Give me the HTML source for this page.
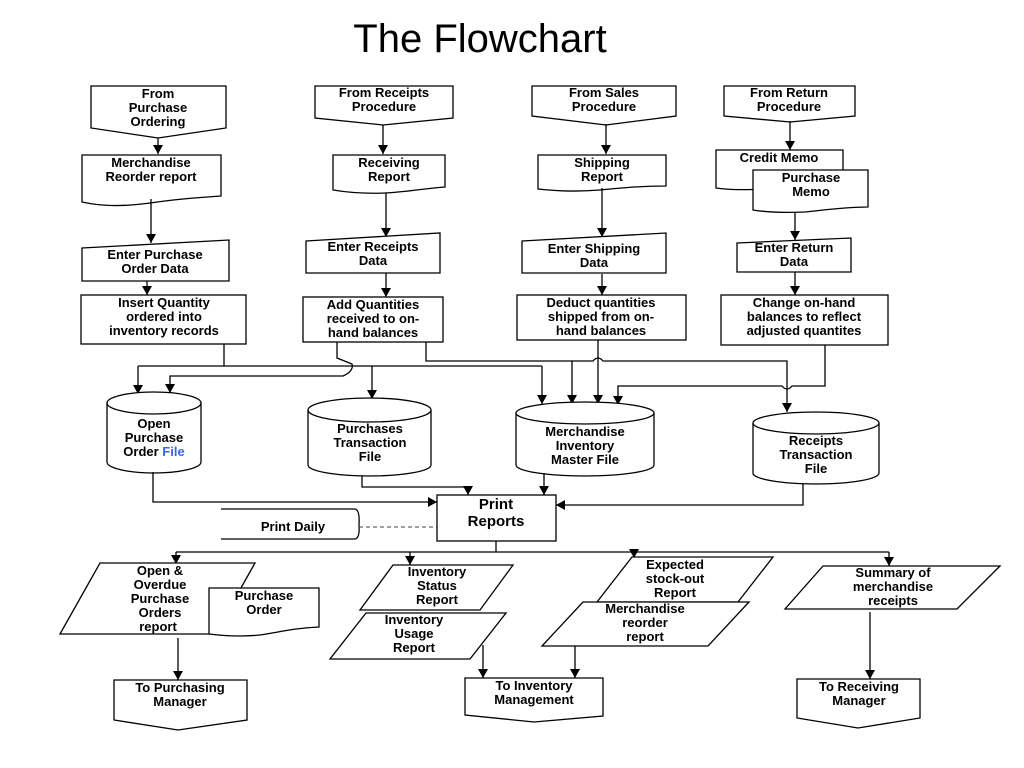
<!DOCTYPE html>
<html><head><meta charset="utf-8"><style>
html,body{margin:0;padding:0;background:#fff;}
svg{display:block;}
text{font-family:"Liberation Sans",Arial,sans-serif;font-weight:bold;font-size:13px;text-anchor:middle;fill:#000;}
.s{fill:#fff;stroke:#000;stroke-width:1.3;}
.l{fill:none;stroke:#000;stroke-width:1.3;}
</style></head><body>
<svg width="1024" height="768" viewBox="0 0 1024 768" xmlns="http://www.w3.org/2000/svg">
<defs><marker id="a" markerWidth="12" markerHeight="12" refX="9" refY="5" orient="auto" markerUnits="userSpaceOnUse"><path d="M0,0 L9,5 L0,10 Z" fill="#000"/></marker></defs>

<text x="480" y="52" style="font-weight:normal;font-size:40px">The Flowchart</text>

<!-- Column 1 -->
<path class="s" d="M91,86 H226 V128 L158,138 L91,128 Z"/>
<text x="158" y="98">From</text><text x="158" y="112">Purchase</text><text x="158" y="126">Ordering</text>
<line class="l" x1="158" y1="138" x2="158" y2="154" marker-end="url(#a)"/>
<path class="s" d="M82,155 H221 V196 C190,198 170,200 150,203 C120,207 100,206 82,202 Z"/>
<text x="151" y="167">Merchandise</text><text x="151" y="181">Reorder report</text>
<line class="l" x1="151" y1="199" x2="151" y2="243" marker-end="url(#a)"/>
<path class="s" d="M82,248 L229,240 V281 H82 Z"/>
<text x="155" y="259">Enter Purchase</text><text x="155" y="273">Order Data</text>
<line class="l" x1="147" y1="281" x2="147" y2="295" marker-end="url(#a)"/>
<rect class="s" x="81" y="295" width="165" height="49"/>
<text x="164" y="307">Insert Quantity</text><text x="164" y="321">ordered into</text><text x="164" y="335">inventory records</text>

<!-- Column 2 -->
<path class="s" d="M315,86 H453 V118 L383,125 L315,118 Z"/>
<text x="384" y="97">From Receipts</text><text x="384" y="111">Procedure</text>
<line class="l" x1="383" y1="125" x2="383" y2="154" marker-end="url(#a)"/>
<path class="s" d="M333,155 H445 V187 C420,189 405,192 385,193 C360,194 345,192 333,190 Z"/>
<text x="389" y="167">Receiving</text><text x="389" y="181">Report</text>
<line class="l" x1="386" y1="193" x2="386" y2="237" marker-end="url(#a)"/>
<path class="s" d="M306,241 L440,233 V273 H306 Z"/>
<text x="373" y="251">Enter Receipts</text><text x="373" y="265">Data</text>
<line class="l" x1="386" y1="273" x2="386" y2="297" marker-end="url(#a)"/>
<rect class="s" x="303" y="297" width="140" height="45"/>
<text x="373" y="309">Add Quantities</text><text x="373" y="323">received to on-</text><text x="373" y="337">hand balances</text>

<!-- Column 3 -->
<path class="s" d="M532,86 H676 V116 L606,125 L532,116 Z"/>
<text x="604" y="97">From Sales</text><text x="604" y="111">Procedure</text>
<line class="l" x1="606" y1="124" x2="606" y2="154" marker-end="url(#a)"/>
<path class="s" d="M538,155 H666 V186 C640,186 620,188 600,190 C575,192 555,191 538,189 Z"/>
<text x="602" y="167">Shipping</text><text x="602" y="181">Report</text>
<line class="l" x1="602" y1="188" x2="602" y2="237" marker-end="url(#a)"/>
<path class="s" d="M522,241 L666,233 V273 H522 Z"/>
<text x="594" y="253">Enter Shipping</text><text x="594" y="267">Data</text>
<line class="l" x1="602" y1="274" x2="602" y2="295" marker-end="url(#a)"/>
<rect class="s" x="517" y="295" width="169" height="45"/>
<text x="601" y="307">Deduct quantities</text><text x="601" y="321">shipped from on-</text><text x="601" y="335">hand balances</text>

<!-- Column 4 -->
<path class="s" d="M724,86 H855 V116 L790,122 L724,116 Z"/>
<text x="789" y="97">From Return</text><text x="789" y="111">Procedure</text>
<line class="l" x1="790" y1="121" x2="790" y2="150" marker-end="url(#a)"/>
<path class="s" d="M716,150 H843 V186 C810,186 790,188 770,189 C745,190 730,190 716,188 Z"/>
<text x="779" y="162">Credit Memo</text>
<path class="s" d="M753,170 H868 V207 C845,207 825,210 805,212 C780,213 765,212 753,210 Z"/>
<text x="811" y="182">Purchase</text><text x="811" y="196">Memo</text>
<line class="l" x1="795" y1="213" x2="795" y2="240" marker-end="url(#a)"/>
<path class="s" d="M737,243 L851,238 V272 H737 Z"/>
<text x="794" y="252">Enter Return</text><text x="794" y="266">Data</text>
<line class="l" x1="795" y1="272" x2="795" y2="295" marker-end="url(#a)"/>
<rect class="s" x="721" y="295" width="167" height="50"/>
<text x="804" y="307">Change on-hand</text><text x="804" y="321">balances to reflect</text><text x="804" y="335">adjusted quantites</text>

<!-- middle connectors -->
<polyline class="l" points="224,344 224,366"/>
<line class="l" x1="138" y1="366" x2="542" y2="366"/>
<line class="l" x1="138" y1="366" x2="138" y2="394" marker-end="url(#a)"/>
<line class="l" x1="372" y1="366" x2="372" y2="399" marker-end="url(#a)"/>
<line class="l" x1="542" y1="366" x2="542" y2="404" marker-end="url(#a)"/>
<path class="l" d="M337,342 V358 L352,364 Q354,371 343,376 H170 V393" marker-end="url(#a)"/>
<path class="l" d="M426,342 V361 H593 Q598,355 603,361 H787 V412" marker-end="url(#a)"/>
<line class="l" x1="572" y1="361" x2="572" y2="404" marker-end="url(#a)"/>
<line class="l" x1="598" y1="340" x2="598" y2="404" marker-end="url(#a)"/>
<path class="l" d="M825,345 V386 H792 Q787,392 782,386 H618 V405" marker-end="url(#a)"/>

<!-- Cylinders -->
<path class="s" d="M107,403 V462 A47,11 0 0 0 201,462 V403"/>
<ellipse class="s" cx="154" cy="403" rx="47" ry="11"/>
<text x="154" y="428">Open</text><text x="154" y="442">Purchase</text><text x="154" y="456">Order <tspan fill="#3a66ee">File</tspan></text>

<path class="s" d="M308,410 V465 A61.5,11 0 0 0 431,465 V410"/>
<ellipse class="s" cx="369.5" cy="410" rx="61.5" ry="12"/>
<text x="370" y="433">Purchases</text><text x="370" y="447">Transaction</text><text x="370" y="461">File</text>

<path class="s" d="M516,413 V465 A69,11 0 0 0 654,465 V413"/>
<ellipse class="s" cx="585" cy="413" rx="69" ry="11"/>
<text x="585" y="436">Merchandise</text><text x="585" y="450">Inventory</text><text x="585" y="464">Master File</text>

<path class="s" d="M753,423 V473 A63,11 0 0 0 879,473 V423"/>
<ellipse class="s" cx="816" cy="423" rx="63" ry="11"/>
<text x="816" y="445">Receipts</text><text x="816" y="459">Transaction</text><text x="816" y="473">File</text>

<!-- Print Reports -->
<rect class="s" x="437" y="495" width="119" height="46"/>
<text x="496" y="509" style="font-size:15px">Print</text><text x="496" y="526" style="font-size:15px">Reports</text>
<path class="l" d="M153,472 V502 H437" marker-end="url(#a)"/>
<path class="l" d="M362,476 V487 H468 V495" marker-end="url(#a)"/>
<line class="l" x1="544" y1="473" x2="544" y2="495" marker-end="url(#a)"/>
<path class="l" d="M803,484 V505 H556" marker-end="url(#a)"/>
<path class="l" d="M221,509 H355 Q360,510 359,525 Q360,538 355,539 H221"/>
<text x="293" y="531">Print Daily</text>
<line x1="359" y1="527" x2="437" y2="527" stroke="#444" stroke-width="1" stroke-dasharray="4,3"/>

<!-- bottom distribution -->
<line class="l" x1="496" y1="541" x2="496" y2="552"/>
<line class="l" x1="176" y1="552" x2="889" y2="552"/>
<line class="l" x1="176" y1="552" x2="176" y2="564" marker-end="url(#a)"/>
<line class="l" x1="410" y1="552" x2="410" y2="565" marker-end="url(#a)"/>
<line class="l" x1="634" y1="552" x2="634" y2="558" marker-end="url(#a)"/>
<line class="l" x1="889" y1="552" x2="889" y2="566" marker-end="url(#a)"/>

<path class="s" d="M100,563 H255 L215,634 H60 Z"/>
<text x="160" y="575">Open &amp;</text><text x="160" y="589">Overdue</text><text x="160" y="603">Purchase</text><text x="160" y="617">Orders</text><text x="158" y="631">report</text>
<path class="s" d="M209,588 H319 V627 C295,628 280,632 260,635 C240,637 225,636 209,634 Z"/>
<text x="264" y="600">Purchase</text><text x="264" y="614">Order</text>
<line class="l" x1="178" y1="638" x2="178" y2="680" marker-end="url(#a)"/>
<path class="s" d="M114,680 H247 V720 L178,730 L114,720 Z"/>
<text x="180" y="692">To Purchasing</text><text x="180" y="706">Manager</text>

<path class="s" d="M393,565 H513 L480,610 H360 Z"/>
<text x="437" y="576">Inventory</text><text x="437" y="590">Status</text><text x="437" y="604">Report</text>
<path class="s" d="M366,613 H506 L470,659 H330 Z"/>
<text x="414" y="624">Inventory</text><text x="414" y="638">Usage</text><text x="414" y="652">Report</text>
<line class="l" x1="483" y1="645" x2="483" y2="678" marker-end="url(#a)"/>
<path class="s" d="M465,678 H603 V716 L534,722 L465,715 Z"/>
<text x="534" y="690">To Inventory</text><text x="534" y="704">Management</text>

<path class="s" d="M632,557 H773 L738,602 H597 Z"/>
<text x="675" y="569">Expected</text><text x="675" y="583">stock-out</text><text x="675" y="597">Report</text>
<path class="s" d="M583,602 H749 L708,646 H542 Z"/>
<text x="645" y="613">Merchandise</text><text x="645" y="627">reorder</text><text x="645" y="641">report</text>
<line class="l" x1="575" y1="646" x2="575" y2="678" marker-end="url(#a)"/>

<path class="s" d="M823,566 H1000 L957,609 H785 Z"/>
<text x="893" y="577">Summary of</text><text x="893" y="591">merchandise</text><text x="893" y="605">receipts</text>
<line class="l" x1="870" y1="612" x2="870" y2="679" marker-end="url(#a)"/>
<path class="s" d="M797,679 H920 V718 L858,728 L797,718 Z"/>
<text x="859" y="691">To Receiving</text><text x="859" y="705">Manager</text>
</svg>
</body></html>
